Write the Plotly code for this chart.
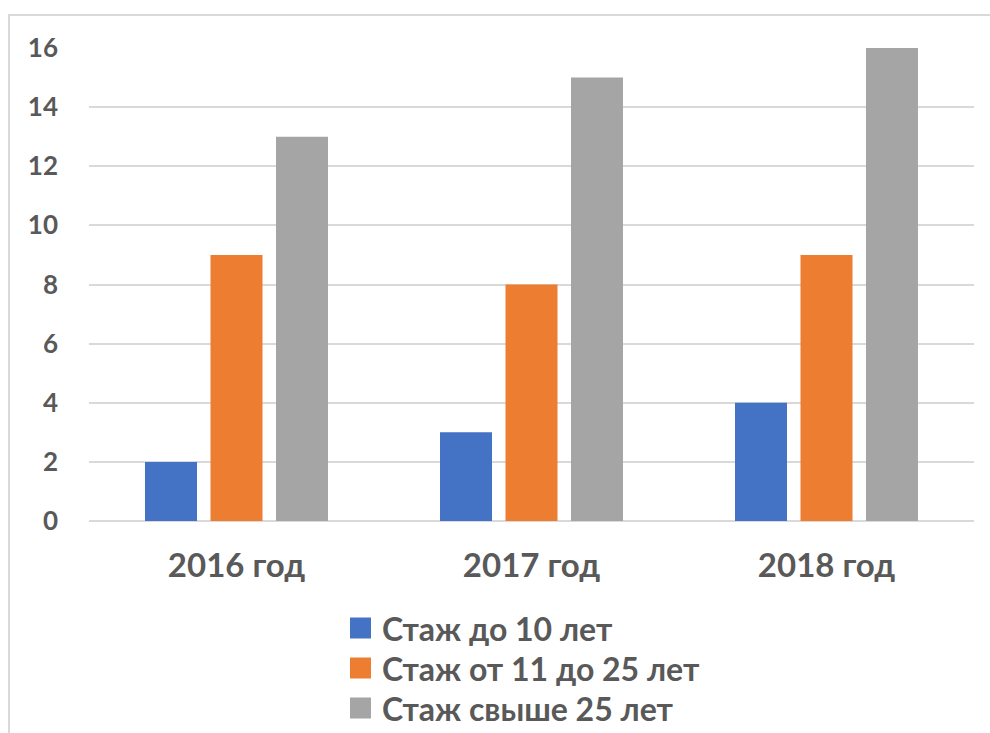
import plotly.graph_objects as go

categories = ["2016 год", "2017 год", "2018 год"]
series_names = ["Стаж до 10 лет", "Стаж от 11 до 25 лет", "Стаж свыше 25 лет"]
values_under10 = [2, 3, 4]
values_11_25 = [9, 8, 9]
values_over25 = [13, 15, 16]
y_ticks = [0, 2, 4, 6, 8, 10, 12, 14, 16]
colors = ["#4472C4", "#ED7D31", "#A5A5A5"]

W, H = 990, 733
# plot area in window coordinates: x 89..974, y 48..521
L, R, T, B = 89, W - 974, 48, H - 521
pw, ph = W - L - R, H - T - B

def px(x):
    return (x - L) / pw

def py(y):
    return (H - B - y) / ph

FONT = "Lato"
TXT = "#595959"

fig = go.Figure()
for name, vals, col in zip(series_names, [values_under10, values_11_25, values_over25], colors):
    fig.add_trace(go.Bar(x=categories, y=vals, name=name, marker=dict(color=col, line=dict(width=0)),
                         showlegend=False))

fig.update_layout(
    width=W, height=H,
    margin=dict(l=L, r=R, t=T, b=B),
    paper_bgcolor="white", plot_bgcolor="white",
    barmode="group", bargap=0.334, bargroupgap=0.206,
    font=dict(family=FONT, color=TXT),
    xaxis=dict(showgrid=False, showline=False, ticks="", zeroline=False,
               tickfont=dict(family=FONT, size=33, color=TXT, weight="bold"),
               ticklabelstandoff=22),
    yaxis=dict(range=[0, 16], tickvals=y_ticks, showgrid=True, gridcolor="#D9D9D9", gridwidth=1.5,
               zeroline=True, zerolinecolor="#D9D9D9", zerolinewidth=1.5, showline=False, ticks="",
               tickfont=dict(family=FONT, size=26, color=TXT, weight="bold"),
               ticklabelstandoff=30),
)

# chart border: only the top and left edges are visible in the window
fig.add_shape(type="line", xref="paper", yref="paper",
              x0=px(8), x1=px(1000), y0=py(15), y1=py(15),
              line=dict(color="#D9D9D9", width=2), layer="below")
fig.add_shape(type="line", xref="paper", yref="paper",
              x0=px(9), x1=px(9), y0=py(14), y1=py(745),
              line=dict(color="#D9D9D9", width=2), layer="below")

# custom legend
row_y = [628, 668, 708]
for name, col, yc in zip(series_names, colors, row_y):
    fig.add_shape(type="rect", xref="paper", yref="paper",
                  x0=px(350), x1=px(371), y0=py(yc + 10.5), y1=py(yc - 10.5),
                  line=dict(width=0), fillcolor=col)
    fig.add_annotation(xref="paper", yref="paper", x=px(380), y=py(yc), text=name,
                       showarrow=False, xanchor="left", yanchor="middle",
                       font=dict(family=FONT, size=32, color=TXT, weight="bold"))

fig.write_html(
    "out.html",
    config={"displayModeBar": False},
    post_script="document.body.style.margin='0';document.body.style.overflow='hidden';",
)
